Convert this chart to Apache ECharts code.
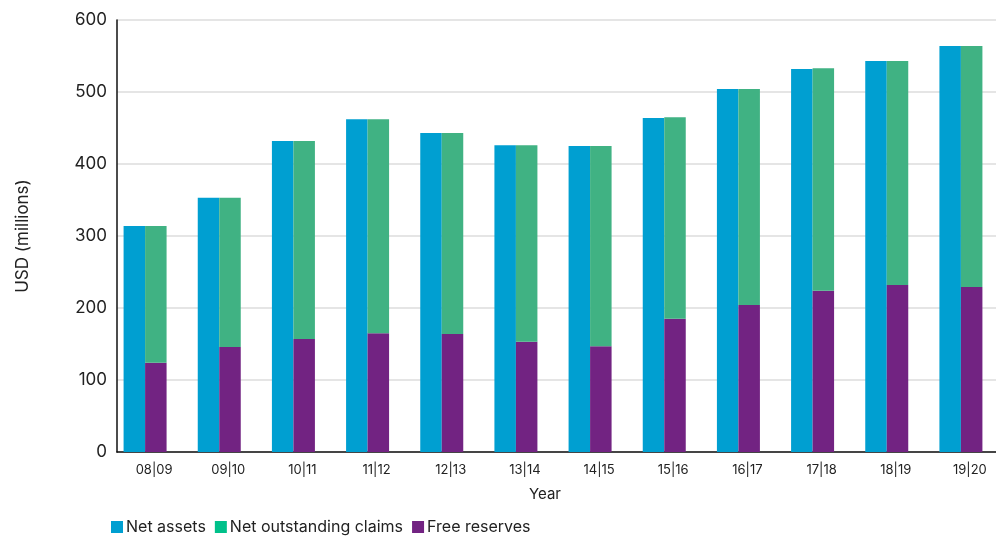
<!DOCTYPE html>
<html>
<head>
<meta charset="utf-8">
<script src="https://cdn.jsdelivr.net/npm/echarts@6/dist/echarts.min.js"></script>
<style>
html,body{margin:0;padding:0;background:#fff;}
#chart{width:996px;height:536px;}
</style>
</head>
<body>
<div id="chart"></div>
<script>
const categories = ['08|09','09|10','10|11','11|12','12|13','13|14','14|15','15|16','16|17','17|18','18|19','19|20'];
const netAssets = [314,353,432,462,443,426,425,464,504,532,543,564];
const freeReserves = [124,146,157,165,164,153,147,185,204,224,232,229];
const netOutstandingClaims = [190,207,275,297,279,273,278,280,300,309,311,335];
const spacer = [0,0,0,0,0,0,0,0,0,0,0,0];
const yTicks = [0,100,200,300,400,500,600];

const FONT = 'Inter, "Liberation Sans", sans-serif';
const chart = echarts.init(document.getElementById('chart'), null, {renderer:'canvas'});
chart.setOption({
  animation:false,
  backgroundColor:'#fff',
  textStyle:{fontFamily:FONT},
  legend:{
    left:106, top:514,
    itemWidth:12, itemHeight:12, itemGap:9,
    icon:'rect',
    textStyle:{fontFamily:FONT, fontSize:16, color:'#222', padding:[0,0,0,-2]},
    data:[
      {name:'Net assets', itemStyle:{color:'#009FD1'}},
      {name:'Net outstanding claims', itemStyle:{color:'#00C18A'}},
      {name:'Free reserves', itemStyle:{color:'#722382'}}
    ]
  },
  grid:{left:117, width:890, top:20, height:432, containLabel:false, outerBoundsMode:'none'},
  xAxis:{
    type:'category',
    data:categories,
    name:'Year',
    nameLocation:'middle',
    nameGap:35,
    nameTextStyle:{fontFamily:FONT, fontSize:15, color:'#222', padding:[0,34,0,0]},
    axisLine:{lineStyle:{color:'#111', width:1.5}},
    axisTick:{show:false},
    axisLabel:{fontFamily:FONT, fontSize:13, color:'#222', margin:12, interval:0}
  },
  yAxis:{
    type:'value',
    min:0, max:600, interval:100,
    name:'USD (millions)',
    nameLocation:'middle',
    nameGap:86,
    nameTextStyle:{fontFamily:FONT, fontSize:17, color:'#222'},
    axisLine:{show:true, lineStyle:{color:'#111', width:1.5}},
    axisTick:{show:false},
    axisLabel:{fontFamily:FONT, fontSize:17, color:'#222', margin:10,
      formatter:function(v){return yTicks.indexOf(v)>=0?String(v):'';}},
    splitLine:{lineStyle:{color:'#dcdcdc', width:1.5}}
  },
  series:[
    {name:'Net assets', type:'bar', stack:'a', data:netAssets, barWidth:21.5, barGap:0,
      itemStyle:{color:'#009FD1'}},
    {name:'Free reserves', type:'bar', stack:'b', data:freeReserves, barWidth:21.5, barGap:0,
      itemStyle:{color:'#722382'}},
    {name:'Net outstanding claims', type:'bar', stack:'b', data:netOutstandingClaims, barWidth:21.5, barGap:0,
      itemStyle:{color:'#40B283'}},
    {name:'spacer', type:'bar', stack:'c', data:spacer, barWidth:18, barGap:0, silent:true,
      itemStyle:{color:'rgba(0,0,0,0)'}}
  ]
});
</script>
</body>
</html>
